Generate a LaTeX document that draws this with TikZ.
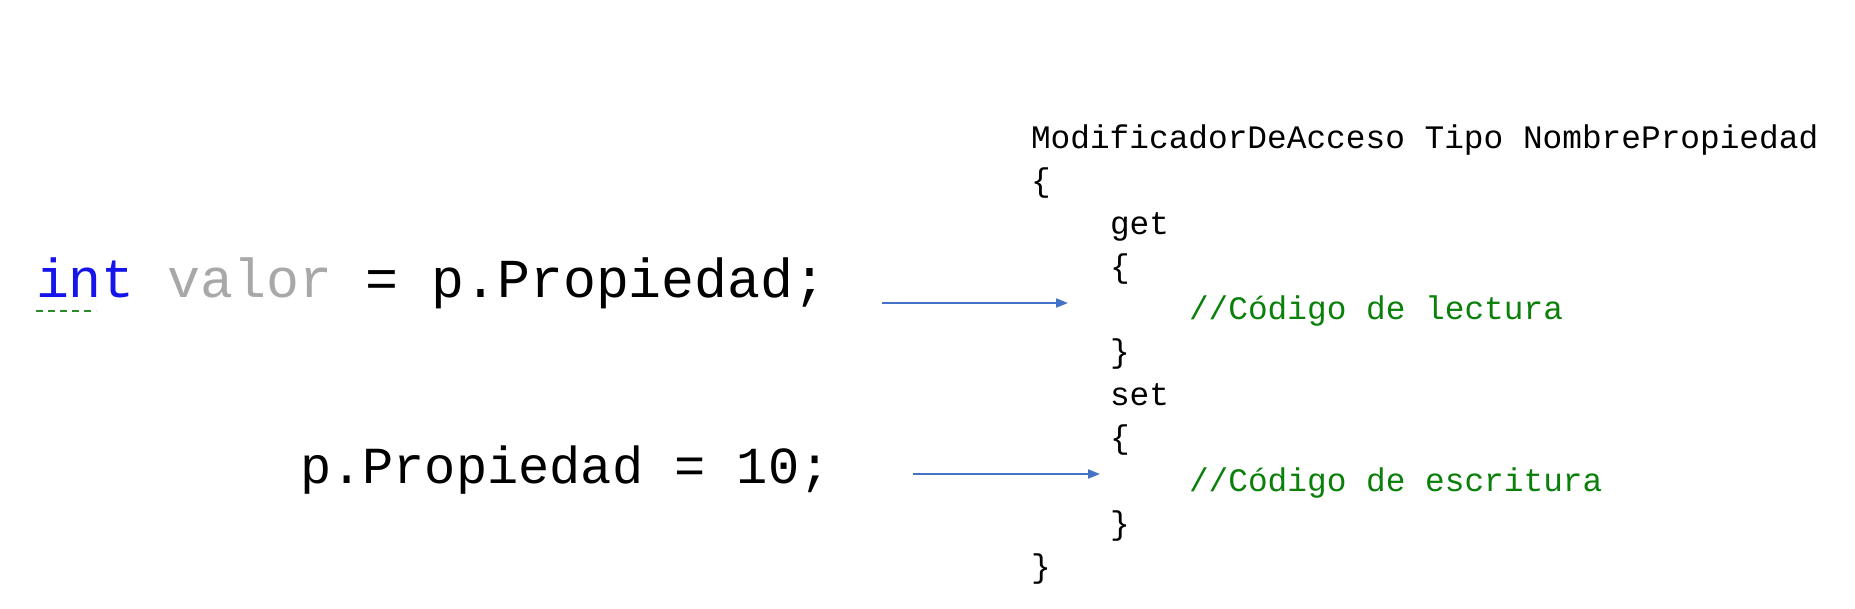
\documentclass[tikz,border=0pt]{standalone}
\usepackage{fontspec}
\newfontfamily\codefont{Liberation Mono}
\usetikzlibrary{arrows.meta}
\definecolor{kwblue}{RGB}{20,20,235}
\definecolor{vargray}{RGB}{168,168,168}
\definecolor{cmtgreen}{RGB}{10,128,10}
\definecolor{arrowblue}{RGB}{68,114,196}
\definecolor{squig}{RGB}{40,140,40}
\begin{document}
\begin{tikzpicture}[x=1pt,y=-1pt,
  codeline/.style={anchor=base west, inner sep=0pt, outer sep=0pt, font=\codefont\fontsize{32.8pt}{40pt}\selectfont},
  comment/.style={codeline, text=cmtgreen},
  bigline/.style={anchor=base west, inner sep=0pt, outer sep=0pt, font=\codefont\fontsize{54.9pt}{60pt}\selectfont},
  midline/.style={anchor=base west, inner sep=0pt, outer sep=0pt, font=\codefont\fontsize{52pt}{58pt}\selectfont},
  arr/.style={draw=arrowblue, line width=1.9pt, -{Triangle[length=12pt,width=9pt]}},
  squiggle/.style={draw=squig, line width=2.8pt, dash pattern=on 7pt off 5pt}]
\useasboundingbox (0,0) rectangle (1855,608);
\fill[white] (0,0) rectangle (1855,608);

% left side
\node[bigline] (l1) at (36,297) {\textcolor{kwblue}{int} \textcolor{vargray}{valor} = p.Propiedad;};
\draw[squiggle] ([yshift=-14pt]l1.base west) -- ++(60,0);
\node[midline] (l2) at (300,483) {p.Propiedad = 10;};

% right side
\node[codeline] (r0) at (1031,148) {ModificadorDeAcceso Tipo NombrePropiedad};
\node[codeline] (r1) at (1031,191) {\{};
\node[codeline] (r2) at (1110,234) {get};
\node[codeline] (r3) at (1110,277) {\{};
\node[comment]  (r4) at (1189,319) {//Código de lectura};
\node[codeline] (r5) at (1110,362) {\}};
\node[codeline] (r6) at (1110,405) {set};
\node[codeline] (r7) at (1110,448) {\{};
\node[comment]  (r8) at (1189,491) {//Código de escritura};
\node[codeline] (r9) at (1110,534) {\}};
\node[codeline] (r10) at (1031,577) {\}};

% arrows
\coordinate (a1s) at (882,303);
\coordinate (a1e) at (1068,303);
\coordinate (a2s) at (913,474);
\coordinate (a2e) at (1100,474);
\draw[arr] (a1s) -- (a1e);
\draw[arr] (a2s) -- (a2e);
\end{tikzpicture}
\end{document}
